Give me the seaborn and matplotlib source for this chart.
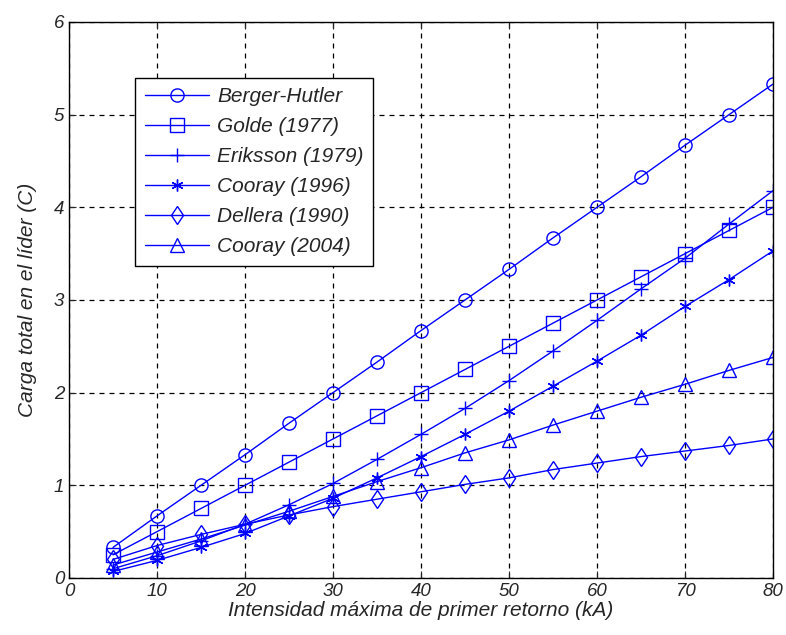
import pandas as pd
import matplotlib
matplotlib.use("Agg")
import matplotlib.pyplot as plt
import seaborn as sns

# datos
corriente = [5, 10, 15, 20, 25, 30, 35, 40, 45, 50, 55, 60, 65, 70, 75, 80]
berger = [0.33, 0.67, 1.00, 1.33, 1.67, 2.00, 2.33, 2.67, 3.00, 3.33, 3.67, 4.00, 4.33, 4.67, 5.00, 5.33]
golde = [0.25, 0.50, 0.75, 1.00, 1.25, 1.50, 1.75, 2.00, 2.25, 2.50, 2.75, 3.00, 3.25, 3.50, 3.75, 4.00]
eriksson = [0.10, 0.24, 0.40, 0.58, 0.79, 1.02, 1.28, 1.55, 1.83, 2.13, 2.45, 2.78, 3.12, 3.45, 3.82, 4.18]
cooray96 = [0.07, 0.19, 0.33, 0.48, 0.67, 0.86, 1.08, 1.31, 1.55, 1.80, 2.07, 2.34, 2.62, 2.93, 3.22, 3.53]
dellera = [0.20, 0.35, 0.47, 0.58, 0.68, 0.77, 0.85, 0.93, 1.01, 1.08, 1.17, 1.24, 1.31, 1.37, 1.43, 1.50]
cooray04 = [0.14, 0.28, 0.42, 0.57, 0.72, 0.88, 1.04, 1.19, 1.35, 1.49, 1.65, 1.80, 1.95, 2.09, 2.24, 2.38]

series = [
    ('Berger-Hutler', berger, 'o'),
    ('Golde (1977)', golde, 's'),
    ('Eriksson (1979)', eriksson, '+'),
    ('Cooray (1996)', cooray96, (6, 2, 0)),
    ('Dellera (1990)', dellera, 'd'),
    ('Cooray (2004)', cooray04, '^'),
]

sns.set_style("ticks")
plt.rcParams['font.family'] = ['Liberation Sans', 'DejaVu Sans']
plt.rcParams['font.style'] = 'italic'

fig = plt.figure(figsize=(7.86, 6.35), dpi=100)
ax = fig.add_axes([0.0878, 0.0898, 0.8957, 0.8756])

for nombre, valores, marca in series:
    df = pd.DataFrame({'x': corriente, 'y': valores})
    sns.lineplot(data=df, x='x', y='y', ax=ax, color='blue', marker=marca,
                 markersize=9.5 if marca != (6, 2, 0) else 8.5, linewidth=1,
                 markerfacecolor='none', markeredgecolor='blue',
                 markeredgewidth=1, label=nombre)

ax.set_xlim(0, 80)
ax.set_ylim(0, 6)
ax.set_xticks(range(0, 81, 10))
ax.set_yticks(range(0, 7))
ax.grid(True, color='black', linestyle=(0, (4, 4)), linewidth=0.9)
ax.tick_params(direction='in', top=True, right=True, labelsize=13.5, length=5)
for lab in ax.get_xticklabels() + ax.get_yticklabels():
    lab.set_fontstyle('italic')
for s in ax.spines.values():
    s.set_color('black')
    s.set_linewidth(1)

ax.set_xlabel('Intensidad máxima de primer retorno (kA)', fontsize=15, style='italic', labelpad=1)
ax.set_ylabel('Carga total en el líder (C)', fontsize=15, style='italic', labelpad=12)

leg = ax.legend(loc='upper left', bbox_to_anchor=(0.094, 0.9), fontsize=15,
                handlelength=3.1, handletextpad=0.4, frameon=True, fancybox=False,
                framealpha=1, edgecolor='black', borderpad=0.45, labelspacing=0.53,
                borderaxespad=0)
leg.get_frame().set_linewidth(1)
for t in leg.get_texts():
    t.set_fontstyle('italic')

fig.savefig('out.png', dpi=100)
